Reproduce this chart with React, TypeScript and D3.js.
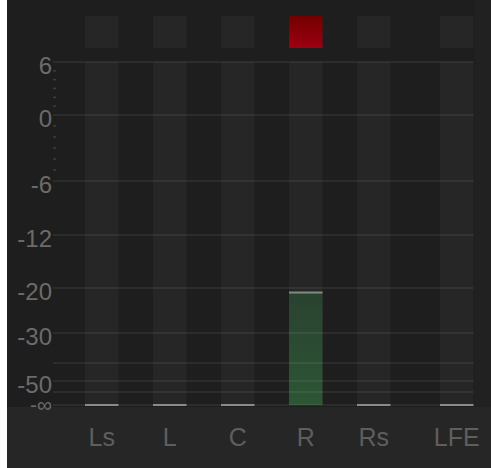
import React from "react";
import * as d3 from "d3";

// Channel data
const channels = ["Ls", "L", "C", "R", "Rs", "LFE"];
const levelsDb = [-Infinity, -Infinity, -Infinity, -21, -Infinity, -Infinity];
const clipped = [false, false, false, true, false, false];

// Scale definition (dB breakpoints)
const gridDb = [6, 0, -6, -12, -20, -30, -40, -50, -60, -Infinity];
const tickDb = [6, 0, -6, -12, -20, -30, -50, -Infinity];
const tickLabels = ["6", "0", "-6", "-12", "-20", "-30", "-50", "-∞"];
const minorDb = [5, 4, 3, 2, 1, -1, -2, -3, -4, -5];

const W = 491;
const H = 468;
const FLOOR = -70; // stand-in for -∞

const toNum = (v: number) => (v === -Infinity ? FLOOR : v);

const y = d3
  .scaleLinear()
  .domain([6, 0, -6, -12, -20, -30, -40, -50, -60, FLOOR])
  .range([62, 115, 181, 235, 288, 333, 363, 381, 392, 405])
  .clamp(true);

const band = d3
  .scaleBand<string>()
  .domain(channels)
  .range([85, 85 + 68 * 6 - 34.5])
  .paddingInner(0.507)
  .paddingOuter(0);

const colX = (ch: string) => (band(ch) as number) + (ch === "LFE" ? 15 : 0);
const colW = band.bandwidth();

const gridX0 = 53;
const gridX1 = colX("LFE") + colW;

export default function App() {
  const yTop = y(6);
  const yBot = y(FLOOR);
  return (
    <svg
      width={W}
      height={H}
      style={{ position: "absolute", left: 0, top: 0, display: "block" }}
      fontFamily="'Liberation Sans', Arial, Helvetica, sans-serif"
    >
      <defs>
        <linearGradient id="clipRed" x1="0" y1="0" x2="0" y2="1">
          <stop offset="0" stopColor="#720000" />
          <stop offset="1" stopColor="#9e0012" />
        </linearGradient>
        <linearGradient id="greenFill" x1="0" y1="0" x2="0" y2="1">
          <stop offset="0" stopColor="#2a4230" />
          <stop offset="1" stopColor="#2c5634" />
        </linearGradient>
      </defs>
      <rect x={0} y={0} width={W} height={H} fill="#ffffff" />
      <rect x={7} y={0} width={W - 7} height={H} fill="#1e1e1e" />
      <rect x={7} y={yBot + 2} width={W - 7} height={H - yBot - 2} fill="#262626" />
      <rect x={gridX1 + 1} y={0} width={W - gridX1 - 1} height={yBot + 2} fill="#212121" />

      {/* clip indicators */}
      {channels.map((ch, i) => (
        <rect
          key={"clip" + ch}
          x={colX(ch)}
          y={16}
          width={colW}
          height={32}
          fill={clipped[i] ? "url(#clipRed)" : "#262626"}
        />
      ))}

      {/* column backgrounds */}
      {channels.map((ch) => (
        <rect key={"bg" + ch} x={colX(ch)} y={yTop} width={colW} height={yBot - yTop} fill="#262626" />
      ))}

      {/* level fills */}
      {channels.map((ch, i) => {
        const yv = y(toNum(levelsDb[i]));
        return (
          <rect key={"fill" + ch} x={colX(ch)} y={yv} width={colW} height={yBot - yv} fill="url(#greenFill)" />
        );
      })}

      {/* grid lines */}
      {gridDb.map((d) => (
        <line
          key={"g" + d}
          x1={gridX0}
          x2={gridX1}
          y1={y(toNum(d))}
          y2={y(toNum(d))}
          stroke="rgba(255,255,255,0.085)"
          strokeWidth={1.5}
        />
      ))}

      {/* minor ticks */}
      {minorDb.map((d) => (
        <line key={"m" + d} x1={53} x2={56} y1={y(d)} y2={y(d)} stroke="#3e3e3e" strokeWidth={1.5} />
      ))}

      {/* level caps */}
      {channels.map((ch, i) => {
        const yv = y(toNum(levelsDb[i]));
        return (
          <rect
            key={"cap" + ch}
            x={colX(ch)}
            y={yv - 1}
            width={colW}
            height={2}
            fill={levelsDb[i] === -Infinity ? "#8a8a8a" : "rgba(200,215,200,0.55)"}
          />
        );
      })}

      {/* tick labels */}
      {tickDb.map((d, i) => {
        const inf = d === -Infinity;
        return (
          <text
            key={"t" + i}
            x={52}
            y={y(toNum(d)) + (inf ? 6.5 : 11.5)}
            textAnchor="end"
            fontSize={inf ? 21 : 24}
            fill="#6b6b6b"
          >
            {tickLabels[i]}
          </text>
        );
      })}

      {/* channel labels */}
      {channels.map((ch) => (
        <text
          key={"l" + ch}
          x={colX(ch) + colW / 2}
          y={446}
          textAnchor="middle"
          fontSize={25}
          fill="#5e5e5e"
        >
          {ch}
        </text>
      ))}
    </svg>
  );
}
